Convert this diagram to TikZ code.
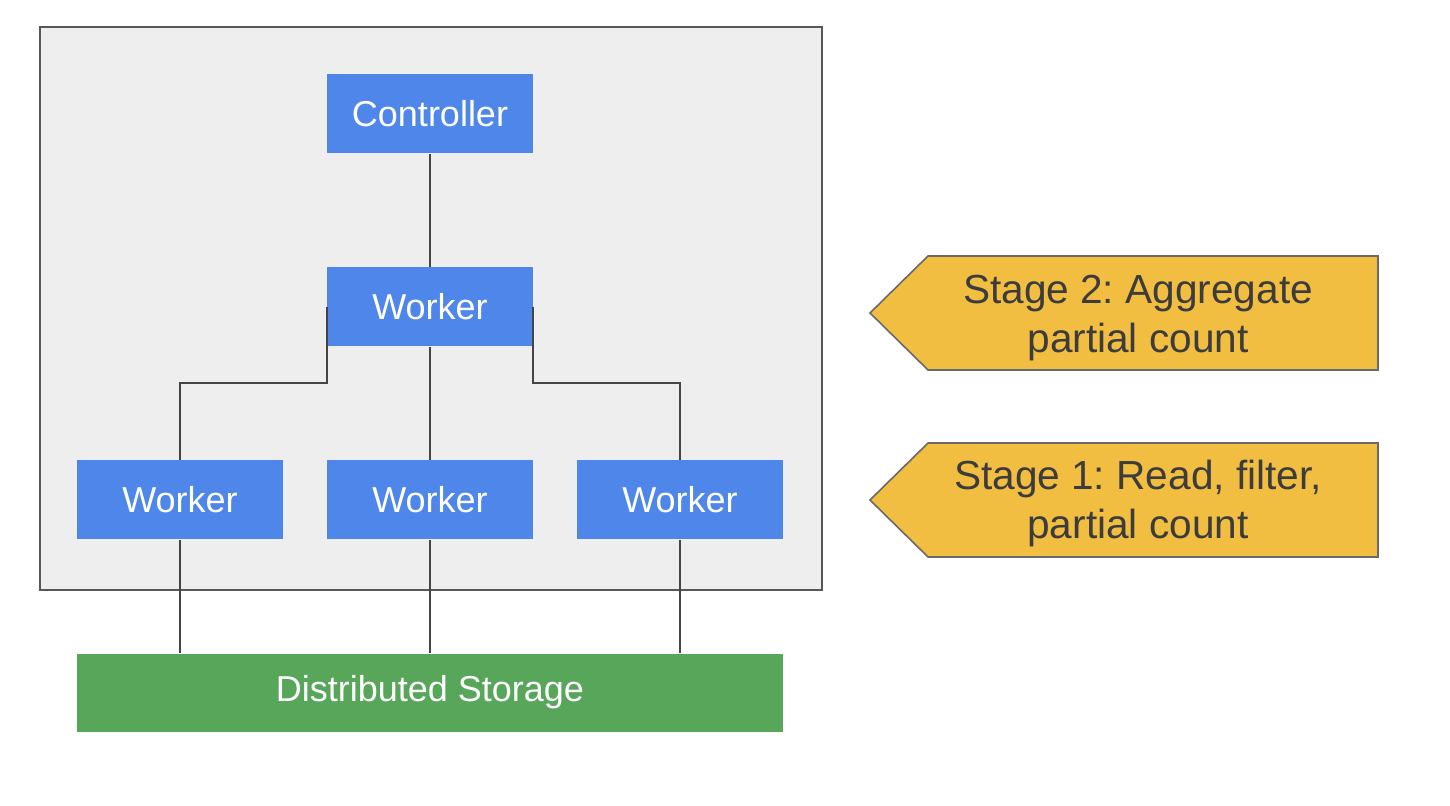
\documentclass[tikz,border=0pt]{standalone}
\usepackage{fontspec}
\setmainfont{Liberation Sans}
\usetikzlibrary{positioning,calc}

\definecolor{boxblue}{RGB}{79,134,234}
\definecolor{storegreen}{RGB}{87,166,90}
\definecolor{stageyellow}{RGB}{241,190,66}
\definecolor{panelgray}{RGB}{238,238,238}
\definecolor{wiregray}{RGB}{68,68,68}
\definecolor{textgray}{RGB}{60,60,60}

\begin{document}
\frenchspacing
\begin{tikzpicture}[x=0.5pt,y=-0.5pt,
  worker/.style={fill=boxblue,text=white,minimum width=103pt,minimum height=39.5pt,
    inner sep=0pt,font=\fontsize{18}{22}\selectfont},
  storage/.style={fill=storegreen,text=white,minimum width=353pt,minimum height=39pt,
    inner sep=0pt,font=\fontsize{18}{22}\selectfont},
  stagetext/.style={text=textgray,align=center,inner sep=0pt,
    font=\fontsize{20.3}{24.5}\selectfont},
  stagearrow/.style={draw=wiregray!80,fill=stageyellow,line width=0.8pt},
  wire/.style={draw=wiregray,line width=1pt}
]
\useasboundingbox (0,0) rectangle (1450,806);

% panel
\draw[draw=wiregray!90,fill=panelgray,line width=0.8pt] (40,27) rectangle (822,590);

% boxes
\node[worker] (ctrl) at (430,114) {Controller};
\node[worker] (agg) at (430,307) {Worker};
\node[worker] (w1) at (180,500) {Worker};
\node[worker] (w2) at (430,500) {Worker};
\node[worker] (w3) at (680,500) {Worker};
\node[storage] (store) at (430,692.5) {Distributed Storage};

% wires
\draw[wire] (ctrl) -- (agg);
\draw[wire] (agg.west) -- ++(0,76) -| (w1.north);
\draw[wire] (agg) -- (w2);
\draw[wire] (agg.east) -- ++(0,76) -| (w3.north);
\draw[wire] (w1) -- (w1 |- store.north);
\draw[wire] (w2) -- (store);
\draw[wire] (w3) -- (w3 |- store.north);

% stages
\draw[stagearrow] (870,313) -- (928,256) -- (1378,256) -- (1378,370) -- (928,370) -- cycle;
\node[stagetext] (stagetwo) at (1138,318.5) {Stage 2: Aggregate\\partial count};
\draw[stagearrow] (870,500) -- (928,443) -- (1378,443) -- (1378,557) -- (928,557) -- cycle;
\node[stagetext] (stageone) at (1138,504) {Stage 1: Read, filter,\\partial count};
\end{tikzpicture}
\end{document}
